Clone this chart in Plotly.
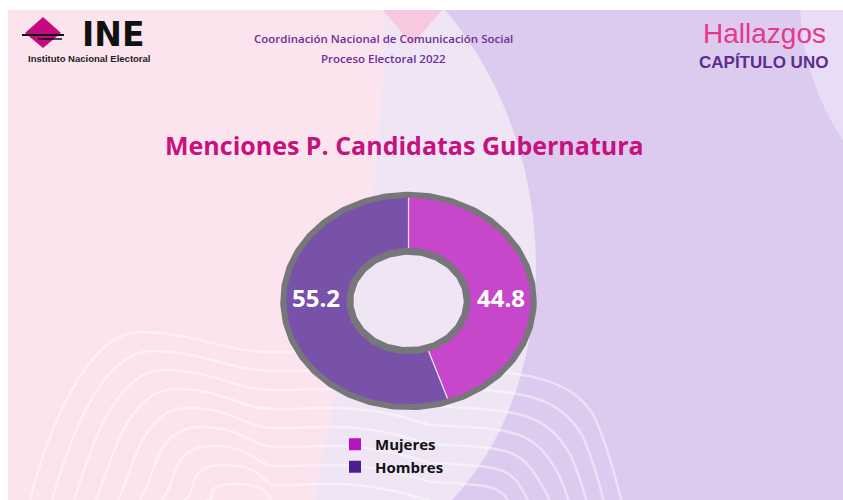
import numpy as np
import plotly.graph_objects as go

# ---------------- data ----------------
categories = ["Mujeres", "Hombres"]
values = [44.8, 55.2]
value_labels = ["44.8", "55.2"]
slice_colors = ["#C647C9", "#7852A9"]
legend_colors = ["#B414C1", "#4B1F92"]

title_text = "Menciones P. Candidatas Gubernatura"
header_line1 = "Coordinación Nacional de Comunicación Social"
header_line2 = "Proceso Electoral 2022"
brand_top = "Hallazgos"
brand_sub = "CAPÍTULO UNO"
logo_text = "INE"
logo_sub = "Instituto Nacional Electoral"

# ---------------- geometry helpers (page pixels) ----------------
PAGE_W, PAGE_H = 843, 500


def fx(x):
    return x / PAGE_W


def fy(y):
    return (PAGE_H - y) / PAGE_H


# donut ellipse in page pixels
CX, CY, RX, RY = 408.5, 301.0, 128.5, 109.0
PADF = 1.05

R_OUT, R_IN = 0.975, 0.44
R_INNER_RING = 0.457
R_LABEL = 0.72

fig = go.Figure()

total = float(sum(values))
cum = 0.0
for cat, v, col in zip(categories, values, slice_colors):
    t0 = np.deg2rad(90 - 360 * cum / total)
    t1 = np.deg2rad(90 - 360 * (cum + v) / total)
    th = np.linspace(t0, t1, 200)
    xs = np.concatenate([R_OUT * np.cos(th), R_IN * np.cos(th[::-1])])
    ys = np.concatenate([R_OUT * np.sin(th), R_IN * np.sin(th[::-1])])
    xs = np.append(xs, xs[0])
    ys = np.append(ys, ys[0])
    fig.add_trace(go.Scatter(
        x=xs, y=ys, fill="toself", fillcolor=col, mode="lines",
        line=dict(color="rgba(238,222,245,0.95)", width=1.2),
        xaxis="x2", yaxis="y2", showlegend=False, hoverinfo="skip", name=cat))
    cum += v

# gray rings
full = np.linspace(0, 2 * np.pi, 400)
fig.add_trace(go.Scatter(x=R_OUT * np.cos(full), y=R_OUT * np.sin(full), mode="lines",
                         line=dict(color="#77767B", width=6), xaxis="x2", yaxis="y2",
                         showlegend=False, hoverinfo="skip"))
fig.add_trace(go.Scatter(x=R_INNER_RING * np.cos(full), y=R_INNER_RING * np.sin(full), mode="lines",
                         line=dict(color="#77767B", width=7), xaxis="x2", yaxis="y2",
                         showlegend=False, hoverinfo="skip"))

# value labels (placed on the side where each slice lies)
cum = 0.0
lx, ly = [], []
for v in values:
    mid = np.deg2rad(90 - 360 * (cum + v / 2) / total)
    lx.append(R_LABEL * np.sign(np.cos(mid)))
    ly.append(0.0)
    cum += v
fig.add_trace(go.Scatter(x=lx, y=ly, mode="text", text=value_labels,
                         textfont=dict(family="Open Sans", size=24, color="white", weight=700),
                         xaxis="x2", yaxis="y2", showlegend=False, hoverinfo="skip"))

# legend entries
for cat, col in zip(categories, legend_colors):
    fig.add_trace(go.Scatter(x=[None], y=[None], mode="markers", name=cat,
                             marker=dict(symbol="square", size=12, color=col),
                             xaxis="x2", yaxis="y2"))

# ---------------- background decoration ----------------
shapes = []
shapes.append(dict(type="rect", xref="x", yref="y", x0=0, x1=PAGE_W, y0=0, y1=PAGE_H,
                   fillcolor="#FCE4EF", line_width=0, layer="below"))
# purple right region
shapes.append(dict(type="path", xref="x", yref="y", layer="below", line_width=0,
                   fillcolor="#DCCBEE",
                   path="M 442,0 L 843,0 L 843,500 L 330,500 C 360,300 400,150 442,0 Z"))
# top right lighter circle
shapes.append(dict(type="circle", xref="x", yref="y", layer="below", line_width=0,
                   fillcolor="#E8DCF6", x0=800, x1=1300, y0=-250, y1=250))
# light central lens
shapes.append(dict(type="path", xref="x", yref="y", layer="below", line_width=0,
                   fillcolor="#EFE5F5",
                   path="M 383,10 C 388,200 335,380 315,500 L 452,500 C 565,380 565,150 445,10 Z"))
# pink wedge at top
shapes.append(dict(type="path", xref="x", yref="y", layer="below", line_width=0,
                   fillcolor="#F8C8DF", path="M 383,10 L 442,10 L 412,45 Z"))
# wave lines
for k in range(9):
    oy = 19 * k
    d = (f"M {30 + 22 * k},{500} "
         f"C {45 + 22 * k},{440 + oy * 0.4} {85 + 14 * k},{332 + oy} {140 + 12 * k},{332 + oy} "
         f"C {195 + 10 * k},{332 + oy} {220 + 6 * k},{352 + oy} {275},{352 + oy} "
         f"C {330},{352 + oy} {360},{345 + oy} {430},{368 + oy} "
         f"C {520},{372 + oy} {570 - 12 * k},{374 + oy} {595 - 12 * k},{418 + oy} "
         f"C {608 - 12 * k},{448 + oy} {616 - 12 * k},{478 + oy} {626 - 14 * k},{520 + oy}")
    shapes.append(dict(type="path", xref="x", yref="y", layer="below", path=d,
                       line=dict(color="rgba(255,255,255,0.45)", width=2.5)))
# white page margins (top and left)
shapes.append(dict(type="rect", xref="x", yref="y", x0=0, x1=PAGE_W, y0=0, y1=10,
                   fillcolor="white", line_width=0, layer="below"))
shapes.append(dict(type="rect", xref="x", yref="y", x0=0, x1=8, y0=0, y1=PAGE_H,
                   fillcolor="white", line_width=0, layer="below"))
# INE logo mark
shapes.append(dict(type="path", xref="x", yref="y", layer="below", line_width=0,
                   fillcolor="#C40A7C", path="M 25,33 L 43,17 L 61,33 L 43,48 Z"))
shapes.append(dict(type="line", xref="x", yref="y", layer="below", x0=22, x1=64, y0=35, y1=35,
                   line=dict(color="#111111", width=2)))
shapes.append(dict(type="line", xref="x", yref="y", layer="below", x0=38, x1=62, y0=39, y1=39,
                   line=dict(color="#111111", width=1.5)))

annotations = [
    dict(text=title_text, x=404, y=145, font=dict(family="Open Sans", size=25, color="#C5127E", weight=700)),
    dict(text=header_line1, x=383, y=38, font=dict(family="Open Sans", size=11.5, color="#6E2E98", weight=600)),
    dict(text=header_line2, x=383, y=58, font=dict(family="Open Sans", size=11.5, color="#6E2E98", weight=600)),
    dict(text=brand_top, x=764, y=33, font=dict(family="Liberation Sans", size=28, color="#E8378C")),
    dict(text=brand_sub, x=763, y=62, font=dict(family="Liberation Sans", size=17, color="#5C2D8F", weight=700)),
    dict(text=logo_text, x=113, y=34, font=dict(family="DejaVu Sans", size=33, color="#111111", weight=700)),
    dict(text=logo_sub, x=89, y=58, font=dict(family="Liberation Sans", size=9.5, color="#222222", weight=700)),
]
for a in annotations:
    a.update(xref="x", yref="y", showarrow=False, xanchor="center", yanchor="middle")

fig.update_layout(
    width=PAGE_W, height=PAGE_H,
    margin=dict(l=0, r=0, t=0, b=0),
    paper_bgcolor="white", plot_bgcolor="rgba(0,0,0,0)",
    xaxis=dict(range=[0, PAGE_W], domain=[0, 1], visible=False, fixedrange=True),
    yaxis=dict(range=[PAGE_H, 0], domain=[0, 1], visible=False, fixedrange=True),
    xaxis2=dict(range=[-PADF, PADF], domain=[fx(CX - PADF * RX), fx(CX + PADF * RX)],
                anchor="y2", visible=False, fixedrange=True),
    yaxis2=dict(range=[-PADF, PADF], domain=[fy(CY + PADF * RY), fy(CY - PADF * RY)],
                anchor="x2", visible=False, fixedrange=True),
    shapes=shapes,
    annotations=annotations,
    showlegend=True,
    legend=dict(x=fx(335), y=fy(428), xanchor="left", yanchor="top",
                bgcolor="rgba(0,0,0,0)", font=dict(family="Open Sans", size=15, color="#111111", weight=700),
                tracegroupgap=0, itemsizing="constant"),
)

fig.write_html("out.html", config={"displayModeBar": False},
               post_script="document.body.style.margin='0';document.body.style.overflow='hidden';")
